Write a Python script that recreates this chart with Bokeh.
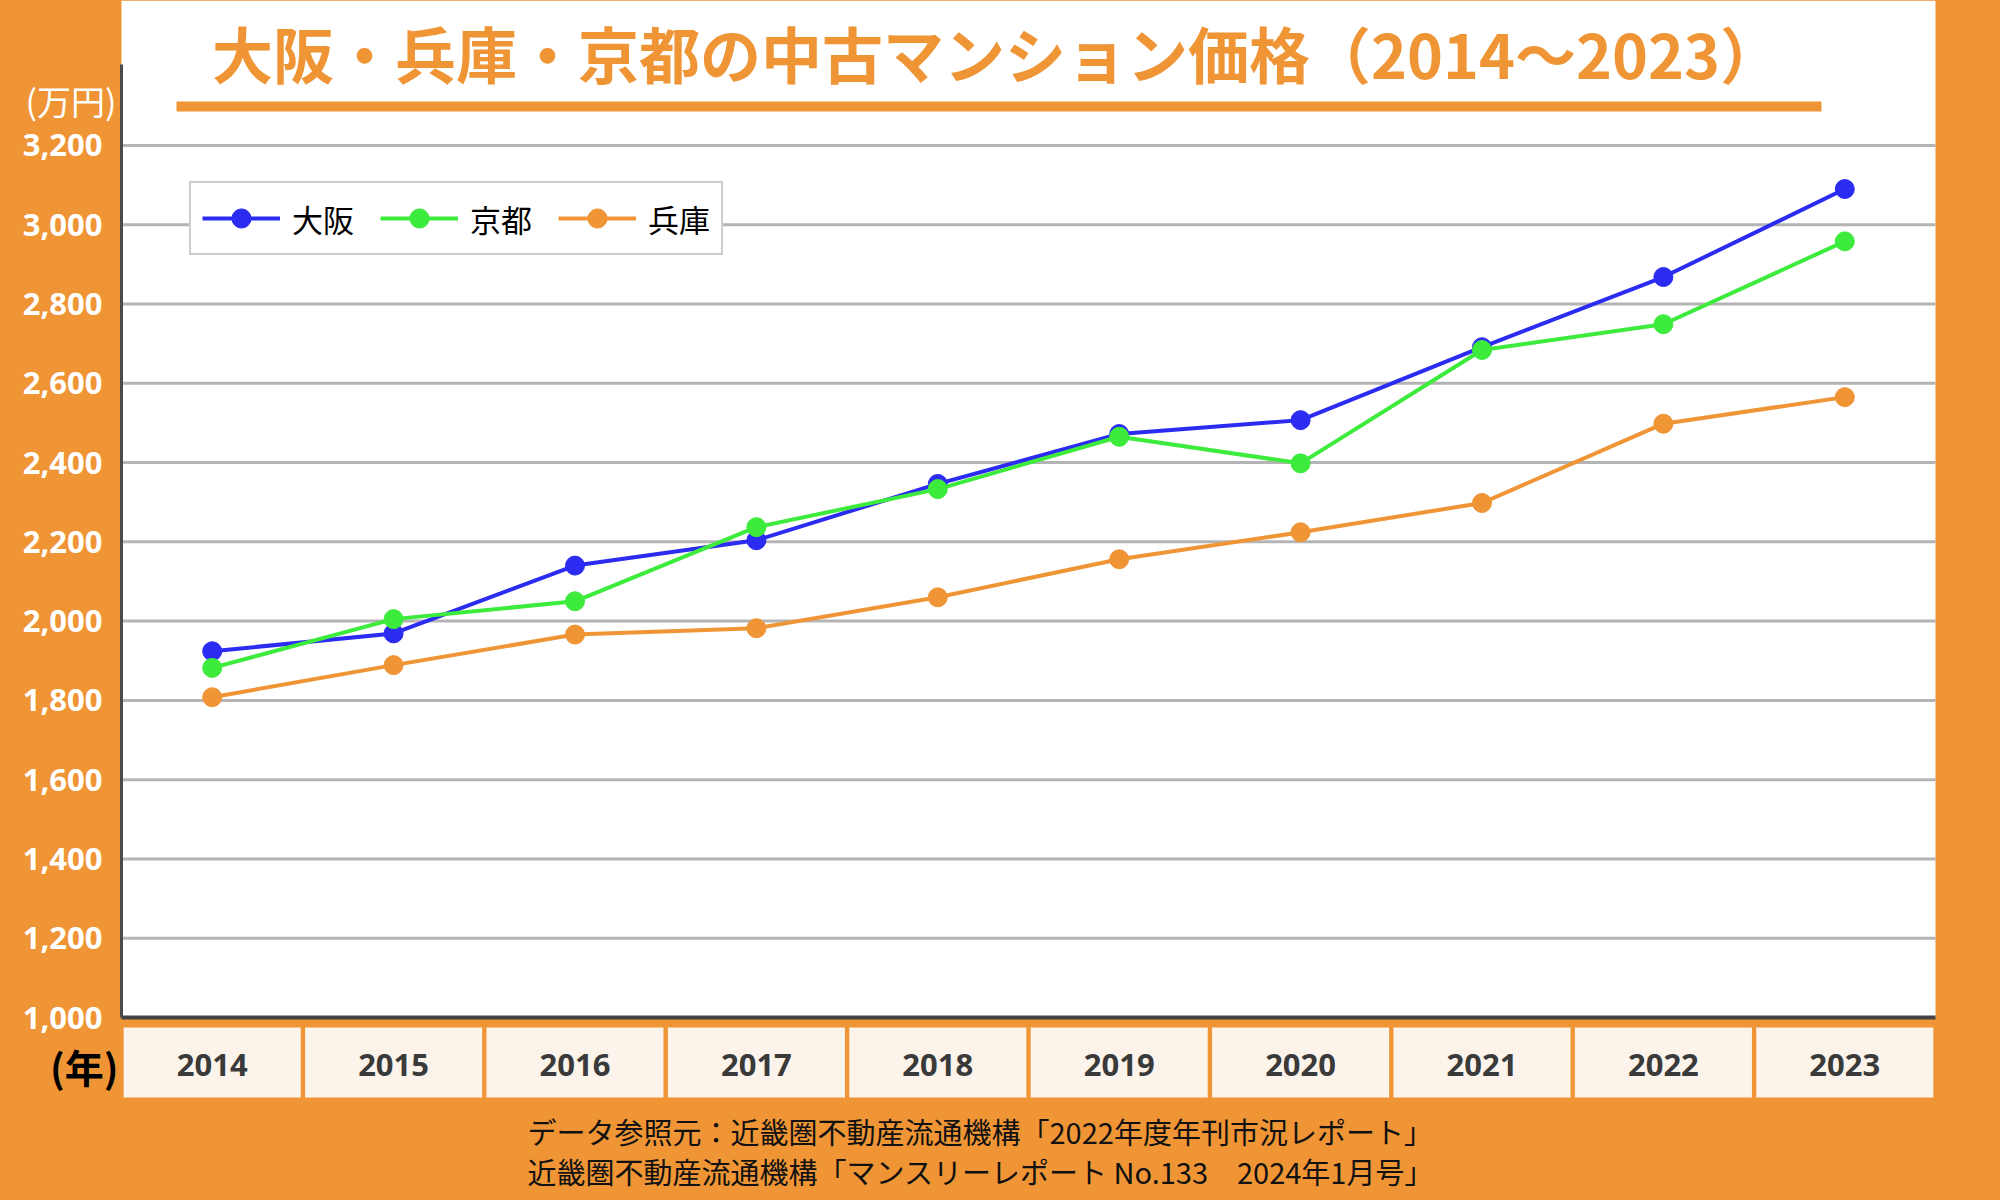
from bokeh.plotting import figure
from bokeh.models import Range1d, FixedTicker, NumeralTickFormatter, Legend, LegendItem, LinearAxis
from bokeh.core.properties import value
from bokeh.embed import file_html
from bokeh.resources import INLINE

# ---- data ----
years = [2014, 2015, 2016, 2017, 2018, 2019, 2020, 2021, 2022, 2023]
osaka = [1924, 1969, 2140, 2204, 2346, 2472, 2507, 2691, 2868, 3090]
kyoto = [1882, 2005, 2050, 2237, 2333, 2465, 2398, 2684, 2749, 2958]
hyogo = [1808, 1889, 1966, 1982, 2060, 2156, 2224, 2298, 2498, 2565]
series_names = ["大阪", "京都", "兵庫"]
y_ticks = [1000, 1200, 1400, 1600, 1800, 2000, 2200, 2400, 2600, 2800, 3000, 3200]
title_text = "大阪・兵庫・京都の中古マンション価格（2014～2023）"
y_unit = "(万円)"
x_unit = "(年)"
source_lines = ["データ参照元：近畿圏不動産流通機構「2022年度年刊市況レポート」",
                "近畿圏不動産流通機構「マンスリーレポート No.133　2024年1月号」"]

# ---- style / layout ----
ORANGE = "#EF9535"
BLUE = "#2B2BF2"
GREEN = "#3DEB3D"
CREAM = "#FCF4EA"
JP_NAME = "Noto Sans CJK JP"
NUM_NAME = "Noto Sans"
JP = value(JP_NAME)
NUM = value(NUM_NAME)

W, H = 2000, 1200
FL, FR = 121, 1935          # plot panel left/right in px
BASE_PX = 1017              # pixel row of value 1000
PXU = 0.3964                # px per unit
x0, x1 = 2013.5, 2023.5
XPU = (x1 - x0) / (FR - FL)


def X(px):
    return x0 + (px - FL) * XPU


def Y(py):
    return 1000 + (BASE_PX - py) / PXU


p = figure(width=W, height=H, output_backend="svg", toolbar_location=None,
           x_range=Range1d(X(0), X(W)), y_range=Range1d(Y(H), Y(0)),
           x_axis_location=None, y_axis_location=None,
           min_border_left=0, min_border_right=0,
           min_border_top=0, min_border_bottom=0)
p.background_fill_color = ORANGE
p.border_fill_color = ORANGE
p.outline_line_color = None
p.grid.visible = False
p.styles = {"background-color": ORANGE}

# white plotting panel
p.quad(left=x0, right=x1, bottom=1000, top=Y(0), fill_color="white",
       line_color=None, level="image")

# horizontal grid lines at the y ticks
p.segment(x0=[x0] * (len(y_ticks) - 1), x1=[x1] * (len(y_ticks) - 1),
          y0=y_ticks[1:], y1=y_ticks[1:], line_color="#B4B4B4", line_width=3,
          level="underlay")

# category boxes
box_h = (1097 - 1027) / PXU
p.rect(x=years, y=[Y(1062)] * len(years), width=0.976, height=box_h,
       fill_color=CREAM, line_color=None)

# y axis fixed at the panel's left edge
yaxis = LinearAxis(fixed_location=x0, ticker=FixedTicker(ticks=y_ticks),
                   formatter=NumeralTickFormatter(format="0,0"),
                   bounds=(1000, Y(64)))
yaxis.axis_line_color = "#4a4a4a"
yaxis.axis_line_width = 3
yaxis.major_tick_line_color = None
yaxis.minor_tick_line_color = None
yaxis.major_label_text_color = "white"
yaxis.major_label_text_font = NUM_NAME
yaxis.major_label_text_font_style = "bold"
yaxis.major_label_text_font_size = "31px"
yaxis.major_label_standoff = 13
p.add_layout(yaxis, "left")

# x axis fixed at value 1000
xaxis = LinearAxis(fixed_location=1000, ticker=FixedTicker(ticks=years),
                   bounds=(x0, x1))
xaxis.axis_line_color = "#444444"
xaxis.axis_line_width = 4
xaxis.major_tick_line_color = None
xaxis.minor_tick_line_color = None
xaxis.major_label_text_color = "#3a3a3a"
xaxis.major_label_text_font = NUM_NAME
xaxis.major_label_text_font_style = "bold"
xaxis.major_label_text_font_size = "31px"
xaxis.major_label_standoff = 30
p.add_layout(xaxis, "below")

# series
items = []
for name, vals, col in zip(series_names, [osaka, kyoto, hyogo], [BLUE, GREEN, ORANGE]):
    rl = p.line(years, vals, line_color=col, line_width=4)
    rs = p.scatter(years, vals, size=19, fill_color=col, line_color=col)
    items.append(LegendItem(label=name, renderers=[rl, rs]))

legend = Legend(items=items, orientation="horizontal", location=(189, H - 255))
legend.border_line_color = "#9a9a9a"
legend.border_line_width = 2.5
legend.background_fill_color = "white"
legend.background_fill_alpha = 1
legend.label_text_font = JP_NAME
legend.label_text_font_size = "31px"
legend.label_text_color = "black"
legend.glyph_width = 78
legend.glyph_height = 48
legend.padding = 11
legend.spacing = 26
legend.label_standoff = 12
legend.margin = 0
p.add_layout(legend)

# title and underline
p.text(x=[X(996)], y=[Y(52)], text=[title_text], text_font=JP, text_font_style="bold",
       text_font_size="61px", text_color=ORANGE, text_align="center", text_baseline="middle")
p.segment(x0=[X(176)], y0=[Y(106)], x1=[X(1821)], y1=[Y(106)], line_color=ORANGE,
          line_width=10, line_cap="butt")

# footer
p.text(x=[X(527), X(527)], y=[Y(1130), Y(1170)], text=source_lines, text_font=JP,
       text_font_size="29px", text_color="#111111", text_align="left", text_baseline="middle")

# unit labels
p.text(x=[X(116)], y=[Y(100)], text=[y_unit], text_font=JP, text_font_size="34px",
       text_color="white", text_align="right", text_baseline="middle")
p.text(x=[X(118)], y=[Y(1065)], text=[x_unit], text_font=JP, text_font_style="bold",
       text_font_size="39px", text_color="black", text_align="right", text_baseline="middle")

open("out.html", "w").write(file_html(p, INLINE))
